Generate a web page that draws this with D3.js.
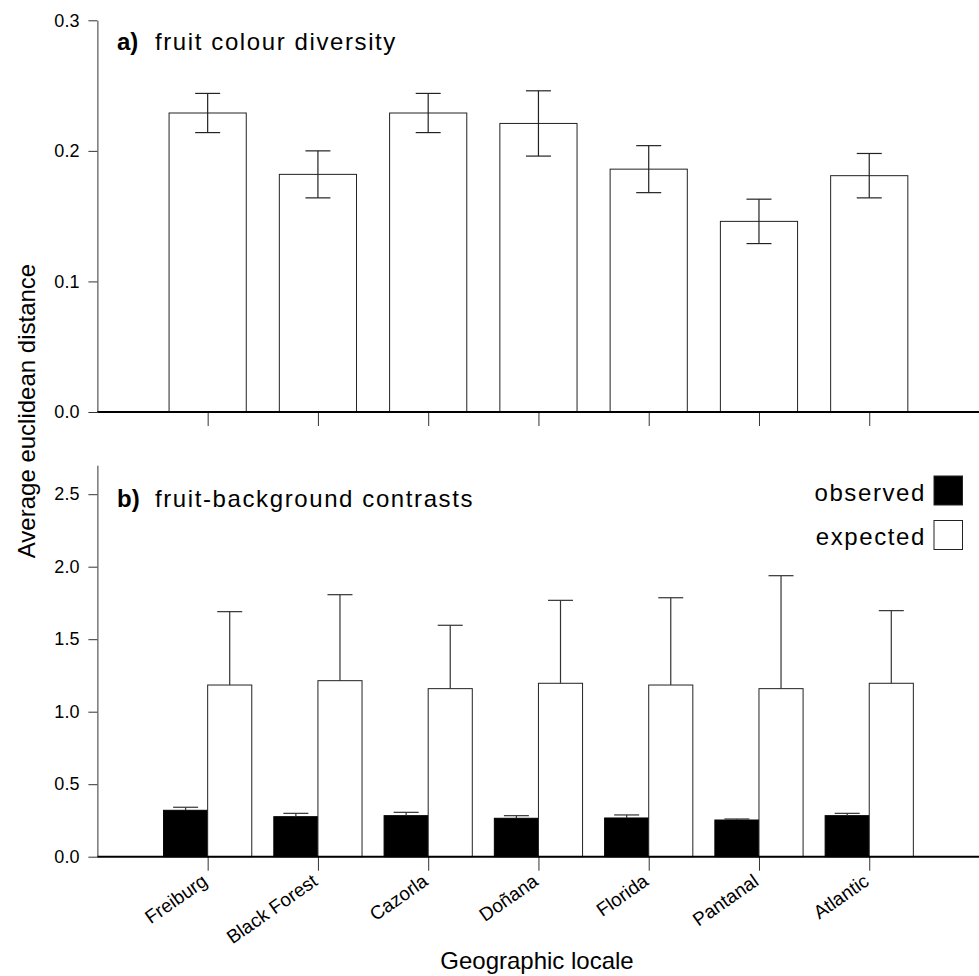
<!DOCTYPE html>
<html>
<head>
<meta charset="utf-8">
<script src="https://cdn.jsdelivr.net/npm/d3@7"></script>
<style>
  html, body { margin: 0; padding: 0; background: #fff; }
  svg { display: block; font-family: "Liberation Sans", Arial, Helvetica, sans-serif; }
  .yaxis text { font-size: 18px; font-family: "Liberation Sans", Arial, sans-serif; fill: #000; }
</style>
</head>
<body>
<svg id="chart" width="979" height="976"></svg>
<script>
// ---- Data ----
const locales = ["Freiburg", "Black Forest", "Cazorla", "Doñana", "Florida", "Pantanal", "Atlantic"];
// a) fruit colour diversity
const diversity   = [0.229, 0.182, 0.229, 0.221, 0.186, 0.146, 0.181];
const diversitySE = [0.015, 0.018, 0.015, 0.025, 0.018, 0.017, 0.017];
// b) fruit-background contrasts
const observed    = [0.320, 0.276, 0.283, 0.265, 0.267, 0.253, 0.283];
const observedSE  = [0.021, 0.023, 0.023, 0.018, 0.021, 0.007, 0.016];
const expected    = [1.184, 1.214, 1.159, 1.196, 1.184, 1.159, 1.196];
const expectedSE  = [0.506, 0.593, 0.437, 0.572, 0.602, 0.779, 0.501];
const ticksA = [0, 0.1, 0.2, 0.3];
const ticksB = [0, 0.5, 1.0, 1.5, 2.0, 2.5];
const seriesNames = ["observed", "expected"];

// ---- Layout ----
const svg = d3.select("#chart");
const xLeft = 97.4, xRight = 979.5;
const step = (xRight - xLeft) / 8;
const x = d3.scalePoint().domain(locales).range([xLeft + step, xRight - step]);

const yA = d3.scaleLinear().domain([0, 0.3]).range([412, 20.3]);
const yB = d3.scaleLinear().domain([0, 2.7]).range([856.7, 465.2]);

const tickFont = 18;
const cap = 12.5;

function yAxis(scale, ticks) {
  const g = svg.append("g").attr("class", "yaxis").attr("transform", `translate(${xLeft},0)`)
    .call(d3.axisLeft(scale).tickValues(ticks).tickFormat(d3.format(".1f")).tickSize(9).tickSizeOuter(0).tickPadding(9));
  g.attr("font-size", tickFont).attr("font-family", "Liberation Sans, Arial, sans-serif");
  g.selectAll("text").attr("font-size", tickFont).attr("fill", "#000");
  g.selectAll("line").attr("stroke", "#333");
  g.select(".domain").attr("stroke", "#333");
  return g;
}
function xAxis(scale, y0) {
  const g = svg.append("g").attr("transform", `translate(0,${y0})`)
    .call(d3.axisBottom(x).tickSize(14).tickSizeOuter(0).tickFormat(""));
  g.select(".domain").remove();
  g.selectAll("line").attr("stroke", "#333");
  svg.append("line").attr("x1", xLeft).attr("x2", xRight).attr("y1", y0).attr("y2", y0)
    .attr("stroke", "#000").attr("stroke-width", 2);
  return g;
}

// ---- Panel a ----
const wA = step * 0.7;
svg.append("g").selectAll("rect").data(locales).join("rect")
  .attr("x", d => x(d) - wA / 2).attr("width", wA)
  .attr("y", (d, i) => yA(diversity[i])).attr("height", (d, i) => yA(0) - yA(diversity[i]))
  .attr("fill", "#fff").attr("stroke", "#222").attr("stroke-width", 1);

const errA = svg.append("g").attr("stroke", "#222").attr("stroke-width", 1.2);
locales.forEach((d, i) => {
  const cx = x(d), hi = yA(diversity[i] + diversitySE[i]), lo = yA(diversity[i] - diversitySE[i]);
  errA.append("line").attr("x1", cx).attr("x2", cx).attr("y1", hi).attr("y2", lo);
  errA.append("line").attr("x1", cx - cap).attr("x2", cx + cap).attr("y1", hi).attr("y2", hi);
  errA.append("line").attr("x1", cx - cap).attr("x2", cx + cap).attr("y1", lo).attr("y2", lo);
});
yAxis(yA, ticksA);
xAxis(x, yA(0));

// ---- Panel b ----
const wB = step * 0.4;
svg.append("g").selectAll("rect").data(locales).join("rect")
  .attr("x", d => x(d) - wB).attr("width", wB)
  .attr("y", (d, i) => yB(observed[i])).attr("height", (d, i) => yB(0) - yB(observed[i]))
  .attr("fill", "#000").attr("stroke", "#000").attr("stroke-width", 1);
svg.append("g").selectAll("rect").data(locales).join("rect")
  .attr("x", d => x(d)).attr("width", wB)
  .attr("y", (d, i) => yB(expected[i])).attr("height", (d, i) => yB(0) - yB(expected[i]))
  .attr("fill", "#fff").attr("stroke", "#222").attr("stroke-width", 1);

const errB = svg.append("g").attr("stroke", "#333").attr("stroke-width", 1.2);
locales.forEach((d, i) => {
  const co = x(d) - wB / 2, ho = yB(observed[i] + observedSE[i]), to = yB(observed[i]);
  errB.append("line").attr("x1", co).attr("x2", co).attr("y1", ho).attr("y2", to);
  errB.append("line").attr("x1", co - cap).attr("x2", co + cap).attr("y1", ho).attr("y2", ho);
  const ce = x(d) + wB / 2, he = yB(expected[i] + expectedSE[i]), te = yB(expected[i]);
  errB.append("line").attr("x1", ce).attr("x2", ce).attr("y1", he).attr("y2", te);
  errB.append("line").attr("x1", ce - cap).attr("x2", ce + cap).attr("y1", he).attr("y2", he);
});
yAxis(yB, ticksB);
xAxis(x, yB(0));

// x tick labels (rotated)
svg.append("g").selectAll("text").data(locales).join("text")
  .attr("transform", d => `translate(${x(d) + 1},${884}) rotate(-35)`)
  .attr("text-anchor", "end")
  .attr("font-size", 19)
  .attr("fill", "#000")
  .text(d => d);

// ---- Titles ----
function panelTitle(tx, ty, tag, label) {
  const t = svg.append("text").attr("x", tx).attr("y", ty).attr("font-size", 24).attr("fill", "#000");
  t.append("tspan").attr("font-weight", "bold").text(tag);
  t.append("tspan").attr("x", tx + 38).attr("letter-spacing", 1.6).text(label);
}
panelTitle(117, 50, "a)", "fruit colour diversity");
panelTitle(117, 507, "b)", "fruit-background contrasts");

// ---- Legend ----
const legendFill = ["#000", "#fff"];
const legendY = [476, 520.5];
seriesNames.forEach((s, i) => {
  svg.append("rect").attr("x", 934).attr("y", legendY[i]).attr("width", 28.5).attr("height", 29)
    .attr("fill", legendFill[i]).attr("stroke", "#222").attr("stroke-width", 1);
  svg.append("text").attr("x", 926).attr("y", legendY[i] + 24.5).attr("text-anchor", "end")
    .attr("font-size", 24).attr("letter-spacing", 1.6).attr("fill", "#000").text(s);
});

// ---- Axis titles ----
svg.append("text").attr("transform", "translate(35,411) rotate(-90)")
  .attr("text-anchor", "middle").attr("font-size", 24).attr("fill", "#000")
  .text("Average euclidean distance");
svg.append("text").attr("x", 537).attr("y", 969).attr("text-anchor", "middle")
  .attr("font-size", 24).attr("fill", "#000").text("Geographic locale");
</script>
</body>
</html>
